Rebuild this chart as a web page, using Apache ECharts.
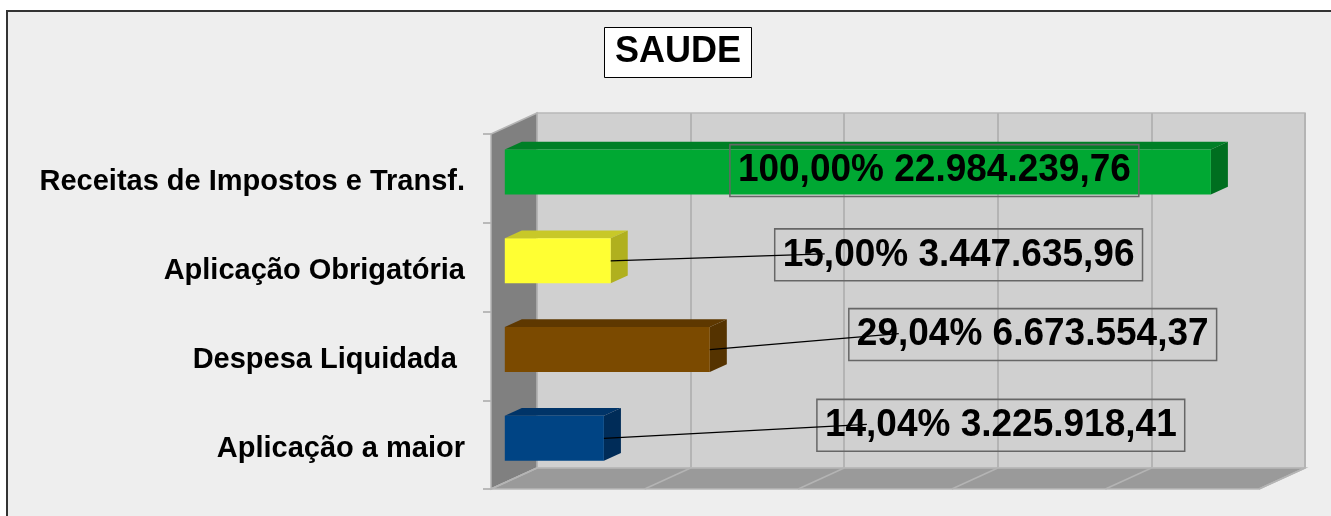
<!DOCTYPE html>
<html>
<head>
<meta charset="utf-8">
<script src="https://cdn.jsdelivr.net/npm/echarts@6/dist/echarts.min.js"></script>
<style>
html,body{margin:0;padding:0;background:#ffffff;}
#chart{width:1331px;height:516px;}
</style>
</head>
<body>
<div id="chart"></div>
<script>
// ---- data ----
const categories = ['Receitas de Impostos e Transf.', 'Aplicação Obrigatória', 'Despesa Liquidada ', 'Aplicação a maior'];
const amounts = [22984239.76, 3447635.96, 6673554.37, 3225918.41];
const percents = [100.00, 15.00, 29.04, 14.04];
const xTicks = [0, 5000000, 10000000, 15000000, 20000000, 25000000];
const titleText = 'SAUDE';

// ---- styles / layout ----
const FONT = 'Arial, "Liberation Sans", sans-serif';
const frontColors = ['#00a833', '#ffff33', '#7b4a00', '#004484'];
const topColors = ['#007f26', '#c8c828', '#5e3800', '#003468'];
const sideColors = ['#006e1f', '#b0b01e', '#553300', '#002c58'];
const DEPTH = [46, -21];
const D0 = 0.3, D1 = 0.67;
const BAR_FRAC = 0.507;
// label box offsets relative to bar end (front face right edge middle)
const labelOffsets = [[-481, -1.5], [164, -6], [139, -15], [213, -13]];

function fmtNum(v) {
  const parts = v.toFixed(2).split('.');
  parts[0] = parts[0].replace(/\B(?=(\d{3})+(?!\d))/g, '.');
  return parts[0] + ',' + parts[1];
}
function fmtPct(p) { return p.toFixed(2).replace('.', ',') + '%'; }

const chart = echarts.init(document.getElementById('chart'));

const hiddenX = function (gi) {
  return { gridIndex: gi, type: 'value', min: 0, max: 25000000, interval: 5000000,
    axisLabel: { show: false }, axisLine: { show: false }, axisTick: { show: false },
    splitLine: { show: false } };
};

const option = {
  backgroundColor: '#ffffff',
  animation: false,
  title: {
    text: titleText,
    left: 604, top: 27,
    padding: [7, 11, 7, 11],
    backgroundColor: '#ffffff',
    borderColor: '#000000',
    borderWidth: 1,
    textStyle: { fontFamily: FONT, fontSize: 36, fontWeight: 'bold', color: '#000', lineHeight: 37 }
  },
  graphic: [{
    type: 'rect', z: -10,
    shape: { x: 7, y: 11, width: 1340, height: 520 },
    style: { fill: '#eeeeee', stroke: '#333333', lineWidth: 2 }
  }],
  grid: [
    { left: 537, top: 113, width: 768, height: 355, show: true, backgroundColor: '#d0d0d0', borderColor: '#b8b8b8', borderWidth: 1.5 },
    { left: 491, top: 134, width: 768, height: 355 },
    { left: 491, top: 138, width: 768, height: 355 }
  ],
  xAxis: [
    { gridIndex: 0, type: 'value', min: 0, max: 25000000, interval: 5000000,
      axisLabel: { show: false }, axisLine: { show: false }, axisTick: { show: false },
      splitLine: { show: true, lineStyle: { color: '#b4b4b4', width: 2 } } },
    hiddenX(1),
    hiddenX(2)
  ],
  yAxis: [
    { gridIndex: 0, type: 'category', data: categories, inverse: true, show: false },
    { gridIndex: 1, type: 'category', data: categories, inverse: true,
      axisLine: { show: false },
      axisTick: { show: true, length: 8, lineStyle: { color: '#a8a8a8', width: 1.5 } },
      axisLabel: { show: false } },
    { gridIndex: 2, type: 'category', data: categories, inverse: true,
      axisLine: { show: false }, axisTick: { show: false },
      axisLabel: { margin: 26, fontFamily: FONT, fontSize: 29, fontWeight: 'bold', color: '#000' } }
  ],
  series: [
    {
      name: 'walls', type: 'custom', xAxisIndex: 1, yAxisIndex: 1, z: 1, silent: true,
      data: [[0, 0]],
      renderItem: function (params, api) {
        const cs = params.coordSys;
        const L = cs.x, T = cs.y, B = cs.y + cs.height, R = cs.x + cs.width;
        const dx = DEPTH[0], dy = DEPTH[1];
        const children = [];
        children.push({ type: 'polygon', shape: { points: [[L, T], [L + dx, T + dy], [L + dx, B + dy], [L, B]] },
          style: { fill: '#808080', stroke: '#b4b4b4', lineWidth: 1.5 } });
        children.push({ type: 'polygon', shape: { points: [[L, B], [L + dx, B + dy], [R + dx, B + dy], [R, B]] },
          style: { fill: '#9a9a9a', stroke: '#b8b8b8', lineWidth: 1.5 } });
        xTicks.forEach(function (t) {
          const px = api.coord([t, 0])[0];
          children.push({ type: 'line', shape: { x1: px, y1: B, x2: px + dx, y2: B + dy },
            style: { stroke: '#b4b4b4', lineWidth: 1.5 } });
        });
        return { type: 'group', children: children };
      }
    },
    {
      name: 'bars', type: 'custom', xAxisIndex: 1, yAxisIndex: 1, z: 2,
      data: amounts.map(function (v, i) { return [v, i]; }),
      renderItem: function (params, api) {
        const i = params.dataIndex;
        const v = api.value(0), ci = api.value(1);
        const p0 = api.coord([0, ci]), p1 = api.coord([v, ci]);
        const band = api.size([0, 1])[1];
        const h = band * BAR_FRAC;
        const ox = DEPTH[0] * D0, oy = DEPTH[1] * D0;
        const ddx = DEPTH[0] * (D1 - D0), ddy = DEPTH[1] * (D1 - D0);
        const x0 = p0[0] + ox, x1 = p1[0] + ox, yc = p0[1] + oy;
        const yt = yc - h / 2, yb = yc + h / 2;
        const children = [
          { type: 'polygon', shape: { points: [[x0, yt], [x0 + ddx, yt + ddy], [x1 + ddx, yt + ddy], [x1, yt]] },
            style: { fill: topColors[i] } },
          { type: 'polygon', shape: { points: [[x1, yt], [x1 + ddx, yt + ddy], [x1 + ddx, yb + ddy], [x1, yb]] },
            style: { fill: sideColors[i] } },
          { type: 'rect', shape: { x: x0, y: yt, width: x1 - x0, height: h },
            style: { fill: frontColors[i] } }
        ];
        const off = labelOffsets[i];
        const bx = x1 + off[0], by = yc + off[1];
        children.push({
          type: 'text', x: bx, y: by, z2: 10, scaleY: 1.06,
          style: {
            text: fmtPct(percents[i]) + ' ' + fmtNum(amounts[i]),
            font: 'bold 37px ' + FONT,
            fill: '#000',
            align: 'left', verticalAlign: 'middle',
            padding: [6, 8, 6, 8],
            borderColor: '#666666', borderWidth: 1.5
          }
        });
        if (bx > x1) {
          children.push({ type: 'line', z2: 11, shape: { x1: x1, y1: yc, x2: bx + 50, y2: by - 1 },
            style: { stroke: '#000', lineWidth: 1.3 } });
        }
        return { type: 'group', children: children };
      }
    }
  ]
};
chart.setOption(option);
</script>
</body>
</html>
